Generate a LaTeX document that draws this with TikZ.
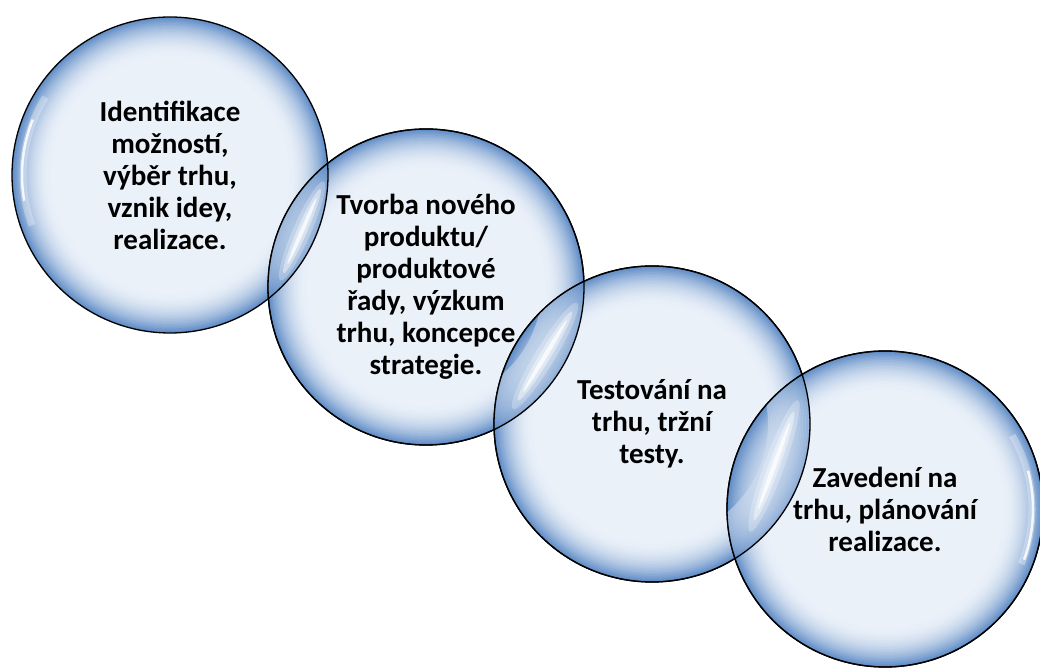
\documentclass[tikz,border=0pt]{standalone}
\usepackage{fontspec}
\setmainfont{Carlito}
\definecolor{bcenter}{HTML}{EBF1F9}
\definecolor{bedge}{HTML}{5F8CC6}
\newcommand\bubbledisk[1]{%
  \foreach \k in {0,...,27}{%
    \pgfmathsetmacro\rr{158-1.5*\k}%
    \pgfmathsetmacro\pc{100*(1-(1-\k/28)^2.2)}%
    \fill[bcenter!\pc!bedge] (#1) circle (\rr);
  }%
  \fill[bcenter] (#1) circle (116);
}
\newcommand\bubbleannuli[2]{%
  \foreach \k in {0,...,27}{%
    \pgfmathsetmacro\rr{158-1.5*\k}%
    \pgfmathsetmacro\rs{156.5-1.5*\k}%
    \pgfmathsetmacro\pc{100*(1-(1-\k/28)^2.2)}%
    \fill[bcenter!\pc!bedge, even odd rule, opacity=#2] (#1) circle (\rr) circle (\rs);
  }%
}
\begin{document}
\begin{tikzpicture}[x=1pt,y=1pt,
  bubble/.style={circle, minimum size=316pt, inner sep=0pt, draw=black, line width=1.3pt,
     font=\bfseries\fontsize{29}{32}\selectfont, align=center, text=black},
  rimline/.style={draw=black, line width=1.3pt},
  glow/.style={fill=white}]
\useasboundingbox (0,0) rectangle (1040,669);
\coordinate (p1) at (170,494);
\coordinate (p2) at (426,382);
\coordinate (p3) at (652,245);
\coordinate (p4) at (885,160);

% bubble 1
\bubbledisk{p1}
\node[bubble] (b1) at (p1) {Identifikace\\možností,\\výběr trhu,\\vznik idey,\\realizace.};
\draw[white, line width=7pt, opacity=0.3] ([shift={(148:147)}]b1.center) arc[start angle=148, end angle=200, radius=147];
\draw[white, line width=2.5pt, opacity=0.85] ([shift={(158:148)}]b1.center) arc[start angle=158, end angle=190, radius=148];

% bubble 2
\bubbledisk{p2}
\node[bubble] (b2) at (p2) {Tvorba nového\\produktu/\\produktové\\řady, výzkum\\trhu, koncepce\\strategie.};
\begin{scope}
  \clip (p2) circle (158);
  \bubbleannuli{p1}{0.55}
  \fill[bedge, opacity=0.18] (p1) circle (158);
  \draw[rimline] (p1) circle (158);
\end{scope}
\draw[rimline] (p2) circle (158);
\begin{scope}[shift={(302,438)}, rotate=66.4]
  \fill[glow, opacity=0.25] (0,0) ellipse (54 and 9);
  \fill[glow, opacity=0.4] (0,0) ellipse (46 and 5);
  \fill[glow, opacity=0.75] (0,0) ellipse (36 and 2);
\end{scope}

% bubble 3
\bubbledisk{p3}
\node[bubble] (b3) at (p3) {Testování na\\trhu, tržní\\testy.};
\begin{scope}
  \clip (p3) circle (158);
  \bubbleannuli{p2}{0.55}
  \fill[bedge, opacity=0.18] (p2) circle (158);
  \draw[rimline] (p2) circle (158);
\end{scope}
\draw[rimline] (p3) circle (158);
\begin{scope}[shift={(545,313)}, rotate=58.8]
  \fill[glow, opacity=0.25] (0,0) ellipse (62 and 10);
  \fill[glow, opacity=0.4] (0,0) ellipse (52 and 5.5);
  \fill[glow, opacity=0.75] (0,0) ellipse (42 and 2.2);
\end{scope}

% bubble 4
\bubbledisk{p4}
\node[bubble] (b4) at (p4) {Zavedení na\\trhu, plánování\\realizace.};
\begin{scope}
  \clip (p4) circle (158);
  \bubbleannuli{p3}{0.55}
  \fill[bedge, opacity=0.18] (p3) circle (158);
  \draw[rimline] (p3) circle (158);
\end{scope}
\draw[rimline] (p4) circle (158);
\begin{scope}[shift={(774,203)}, rotate=70]
  \fill[glow, opacity=0.25] (0,0) ellipse (70 and 10);
  \fill[glow, opacity=0.4] (0,0) ellipse (58 and 5.5);
  \fill[glow, opacity=0.75] (0,0) ellipse (46 and 2.2);
\end{scope}
\draw[white, line width=7pt, opacity=0.3] ([shift={(30:147)}]b4.center) arc[start angle=30, end angle=-22, radius=147];
\draw[white, line width=2.5pt, opacity=0.85] ([shift={(15:148)}]b4.center) arc[start angle=15, end angle=-20, radius=148];
\end{tikzpicture}
\end{document}
